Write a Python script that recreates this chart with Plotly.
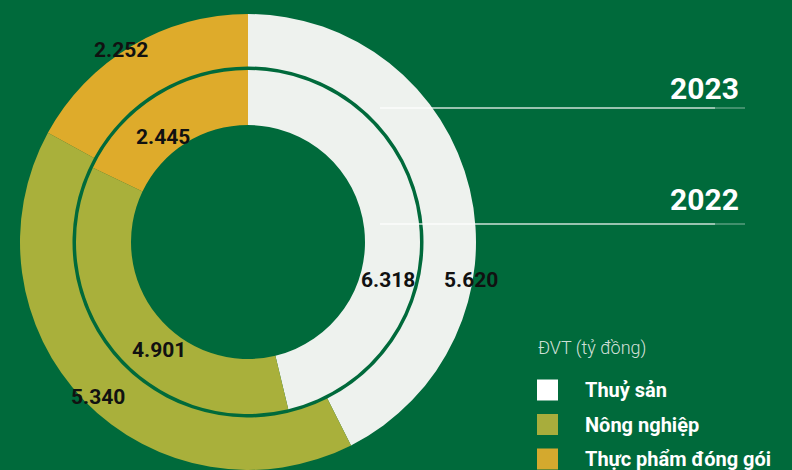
import plotly.graph_objects as go

# ---- data ----
categories = ["Thuỷ sản", "Nông nghiệp", "Thực phẩm đóng gói"]
values_2023 = [5.620, 5.340, 2.252]
values_2022 = [6.318, 4.901, 2.445]
year_labels = ["2023", "2022"]
unit_label = "ĐVT (tỷ đồng)"

# ---- styles ----
colors = ["#eef2ee", "#a9b03b", "#deab2b"]
legend_colors = ["#ffffff", "#a8ad3c", "#d4a92e"]
bg = "#006a3b"
W, H = 792, 470


def fx(px):
    return px / W


def fy(py):
    return 1 - py / H


def fmt(v):
    return f"{v:.3f}"


cx, cy = 248, 242
r_out, r_in = 228, 172

fig = go.Figure()
fig.add_trace(go.Pie(
    labels=categories, values=values_2023, sort=False, direction="clockwise",
    rotation=0, hole=175.5 / r_out, textinfo="none", hoverinfo="label+value",
    marker=dict(colors=colors, line=dict(width=0)),
    domain=dict(x=[fx(cx - r_out), fx(cx + r_out)], y=[fy(cy + r_out), fy(cy - r_out)]),
    showlegend=False, name="2023",
))
fig.add_trace(go.Pie(
    labels=categories, values=values_2022, sort=False, direction="clockwise",
    rotation=0, hole=117 / r_in, textinfo="none", hoverinfo="label+value",
    marker=dict(colors=colors, line=dict(width=0)),
    domain=dict(x=[fx(cx - r_in), fx(cx + r_in)], y=[fy(cy + r_in), fy(cy - r_in)]),
    showlegend=False, name="2022",
))

annotations = []
shapes = []

# value labels (pixel positions of label centres)
pos_2023 = [(471, 280), (98, 397), (121, 50)]
pos_2022 = [(388, 280), (159, 350), (163, 137)]
for vals, poss in ((values_2023, pos_2023), (values_2022, pos_2022)):
    for v, (px, py) in zip(vals, poss):
        annotations.append(dict(
            x=fx(px), y=fy(py), xref="paper", yref="paper", text=fmt(v),
            showarrow=False, xanchor="center", yanchor="middle",
            font=dict(family="Roboto", size=21, color="#111111", weight=700),
        ))

# year labels with guide lines
for lab, ty, ly in zip(year_labels, (88, 200), (108, 224)):
    annotations.append(dict(
        x=fx(741), y=fy(ty), xref="paper", yref="paper", text=lab,
        showarrow=False, xanchor="right", yanchor="middle",
        font=dict(family="Roboto", size=30, color="#ffffff", weight=700),
    ))
    shapes.append(dict(type="line", xref="paper", yref="paper",
                       x0=fx(380), x1=fx(715), y0=fy(ly), y1=fy(ly),
                       line=dict(color="rgba(255,255,255,0.8)", width=1.5), layer="above"))
    shapes.append(dict(type="line", xref="paper", yref="paper",
                       x0=fx(715), x1=fx(745), y0=fy(ly), y1=fy(ly),
                       line=dict(color="rgba(255,255,255,0.35)", width=1.5), layer="above"))

# unit label
annotations.append(dict(
    x=fx(536), y=fy(348), xref="paper", yref="paper", text=unit_label,
    showarrow=False, xanchor="left", yanchor="middle",
    font=dict(family="Roboto", size=18, color="rgba(235,240,235,0.9)", weight=300),
))

# custom legend
for i, (cat, col) in enumerate(zip(categories, legend_colors)):
    yc = 390 + i * 34.5
    shapes.append(dict(type="rect", xref="paper", yref="paper",
                       x0=fx(537), x1=fx(558), y0=fy(yc + 10.5), y1=fy(yc - 10.5),
                       fillcolor=col, line=dict(width=0)))
    annotations.append(dict(
        x=fx(583), y=fy(yc), xref="paper", yref="paper", text=cat,
        showarrow=False, xanchor="left", yanchor="middle",
        font=dict(family="Roboto", size=20, color="#ffffff", weight=700),
    ))

fig.update_layout(
    width=W, height=H, margin=dict(l=0, r=0, t=0, b=0),
    paper_bgcolor=bg, plot_bgcolor=bg,
    annotations=annotations, shapes=shapes,
)

fig.write_html("out.html")
